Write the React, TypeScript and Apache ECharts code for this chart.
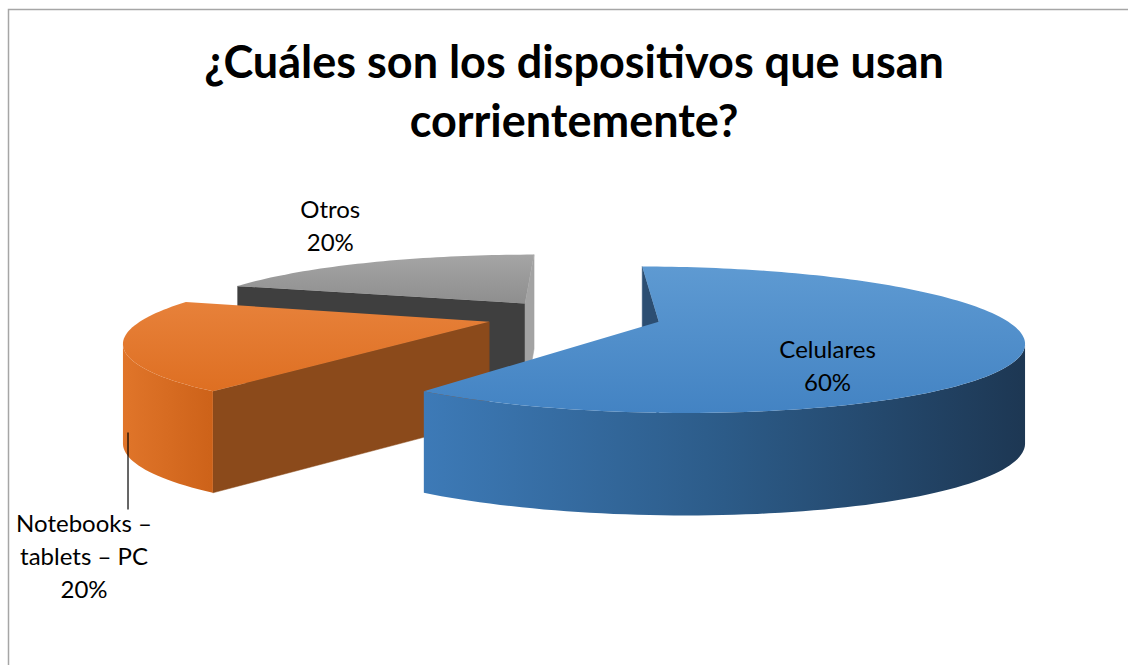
import React, { useEffect, useRef } from "react";
import * as echarts from "echarts";

// ---------- data ----------
const categories = ["Celulares", "Notebooks – tablets – PC", "Otros"];
const values = [60, 20, 20];
const labelNames = ["Celulares", "Notebooks –\ntablets – PC", "Otros"];
const titleText = "¿Cuáles son los dispositivos que usan\ncorrientemente?";

// ---------- style ----------
const FONT = "Lato, 'Open Sans', sans-serif";
const palette = [
  { top: ["#5e9ad2", "#4383c3"], side: ["#3d7ab7", "#2c5b88", "#1d3753"], edgeA: "#2c4e72", edgeB: "#2a4d70" },
  { top: ["#e7813a", "#de6f22"], side: ["#e0752a", "#cd6219"], edgeA: "#8b4a1b", edgeB: "#7a3c10" },
  { top: ["#a5a5a5", "#8e8e8e"], side: ["#9a9a9a", "#808080"], edgeA: "#3f3f3f", edgeB: "#a3a3a3" },
];
// label offsets (pixels) relative to their anchor points
const labelOffset: [number, number][] = [
  [11, 33],
  [-44, 125],
  [-40, -37],
];

// projection parameters (Excel-like 3D pie)
const CX = 574;
const CY = 365.5;
const S = 343;
const DEPTH_SCALE = 68; // vertical pixels per unit depth
const D = 4.2; // perspective distance
const THICK = 98; // pixel thickness
const EXPLODE = 0.255;

// level: 1 = top face, 0 = bottom face
function project(x: number, level: number, z: number): [number, number] {
  const f = D / (D + z);
  return [CX + S * x * f, CY - DEPTH_SCALE * z * f - (level - 0.5) * THICK * Math.pow(f, 0.15)];
}

function area(pts: [number, number][]) {
  let s = 0;
  for (let k = 0; k < pts.length; k++) {
    const p = pts[k];
    const q = pts[(k + 1) % pts.length];
    s += p[0] * q[1] - q[0] * p[1];
  }
  return s / 2;
}

const total = values.reduce((a, b) => a + b, 0);
const starts: number[] = [];
const ends: number[] = [];
{
  let acc = 0;
  values.forEach((v) => {
    starts.push((acc / total) * Math.PI * 2);
    acc += v;
    ends.push((acc / total) * Math.PI * 2);
  });
}

function offsetOf(i: number): [number, number] {
  const m = (starts[i] + ends[i]) / 2;
  return [EXPLODE * Math.sin(m), EXPLODE * Math.cos(m)];
}

// depth rank: farthest slice drawn first
const nearest = values.map((_, i) => {
  const [, oz] = offsetOf(i);
  let mn = oz;
  const N = 90;
  for (let k = 0; k <= N; k++) {
    const t = starts[i] + ((ends[i] - starts[i]) * k) / N;
    mn = Math.min(mn, oz + Math.cos(t));
  }
  return mn;
});
const order = values.map((_, i) => i).sort((a, b) => nearest[b] - nearest[a]);
const rank = values.map((_, i) => order.indexOf(i));

function lin(x: number, y: number, x2: number, y2: number, colors: string[]) {
  return new echarts.graphic.LinearGradient(
    x,
    y,
    x2,
    y2,
    colors.map((c, k) => ({ offset: colors.length === 1 ? 0 : k / (colors.length - 1), color: c }))
  );
}

function renderSlice(params: any, api: any) {
  const i = params.dataIndex;
  api.value(1);
  const a = starts[i];
  const b = ends[i];
  const m = (a + b) / 2;
  const [ox, oz] = offsetOf(i);
  const pal = palette[i];
  const base = rank[i] * 10;
  const children: any[] = [];
  const N = Math.max(12, Math.ceil((b - a) / (Math.PI / 120)));
  const ts: number[] = [];
  for (let k = 0; k <= N; k++) ts.push(a + ((b - a) * k) / N);
  const rim = (t: number, level: number) => project(ox + Math.sin(t), level, oz + Math.cos(t));
  const apex = (level: number) => project(ox, level, oz);

  // radial faces (visible when projected quad is counter-clockwise on screen)
  const startFace = [apex(1), rim(a, 1), rim(a, 0), apex(0)];
  if (area(startFace) < 0) {
    children.push({
      type: "polygon",
      shape: { points: startFace },
      style: { fill: pal.edgeA, stroke: pal.edgeA, lineWidth: 0.5 },
      z2: base + 1,
    });
  }
  const endFace = [rim(b, 1), apex(1), apex(0), rim(b, 0)];
  if (area(endFace) < 0) {
    children.push({
      type: "polygon",
      shape: { points: endFace },
      style: { fill: pal.edgeB, stroke: pal.edgeB, lineWidth: 0.5 },
      z2: base + 1,
    });
  }

  // outer curved side, visible runs
  let run: number[] = [];
  const flush = () => {
    if (run.length >= 2) {
      const topPts = run.map((t) => rim(t, 1));
      const botPts = run
        .slice()
        .reverse()
        .map((t) => rim(t, 0));
      children.push({
        type: "polygon",
        shape: { points: topPts.concat(botPts) },
        style: { fill: lin(0, 0, 1, 0, pal.side), stroke: "none" },
        z2: base + 2,
      });
    }
    run = [];
  };
  for (let k = 0; k < N; k++) {
    const quad = [rim(ts[k], 1), rim(ts[k + 1], 1), rim(ts[k + 1], 0), rim(ts[k], 0)];
    if (area(quad) < 0) {
      if (run.length === 0) run.push(ts[k]);
      run.push(ts[k + 1]);
    } else flush();
  }
  flush();

  // top face
  const topPts = [apex(1)].concat(ts.map((t) => rim(t, 1)));
  children.push({
    type: "polygon",
    shape: { points: topPts },
    style: { fill: lin(0, 0, 0, 1, pal.top), stroke: "none" },
    z2: base + 3,
  });

  // label
  const pct = Math.round((values[i] / total) * 100) + "%";
  const text = labelNames[i] + "\n" + pct;
  const textStyle = {
    text,
    fill: "#000000",
    fontSize: 24,
    fontFamily: FONT,
    lineHeight: 33,
    align: "center",
    verticalAlign: "middle",
    textAlign: "center",
    textVerticalAlign: "middle",
  };
  const [dx, dy] = labelOffset[i];
  if (i === 0) {
    const r = 0.45;
    const [lx, ly] = project(ox + r * Math.sin(m), 1, oz + r * Math.cos(m));
    children.push({ type: "text", x: lx + dx, y: ly + dy, style: textStyle, z2: 100 });
  } else if (i === 2) {
    const [lx, ly] = rim(m, 1);
    children.push({ type: "text", x: lx + dx, y: ly + dy, style: textStyle, z2: 100 });
  } else {
    const [lx, ly] = rim((262 * Math.PI) / 180, 0);
    children.push({
      type: "line",
      shape: { x1: lx, y1: ly + 2, x2: lx, y2: ly + 79 },
      style: { stroke: "#000000", lineWidth: 1.2 },
      z2: 100,
    });
    children.push({ type: "text", x: lx + dx, y: ly + dy, style: textStyle, z2: 100 });
  }

  return { type: "group", children };
}

export default function App() {
  const ref = useRef<HTMLDivElement>(null);
  useEffect(() => {
    if (!ref.current) return;
    const chart = echarts.init(ref.current, null, { renderer: "svg" });
    chart.setOption({
      animation: false,
      backgroundColor: "#ffffff",
      graphic: [
        {
          type: "rect",
          shape: { x: 8.5, y: 9.5, width: 1300, height: 800 },
          style: { fill: "none", stroke: "#a6a6a6", lineWidth: 1.5 },
          silent: true,
        },
        {
          type: "text",
          x: 574,
          y: 31,
          silent: true,
          style: {
            text: titleText,
            fill: "#000000",
            fontFamily: FONT,
            fontWeight: "bold",
            fontSize: 45,
            lineHeight: 59,
            align: "center",
            verticalAlign: "top",
            textAlign: "center",
            textVerticalAlign: "top",
          },
        },
      ],
      series: [
        {
          type: "custom",
          coordinateSystem: "none",
          renderItem: renderSlice,
          data: values.map((v, i) => ({ name: categories[i], value: [i, v] })),
        },
      ],
    });
    return () => chart.dispose();
  }, []);
  return (
    <div
      ref={ref}
      style={{ position: "fixed", left: 0, top: 0, width: 1128, height: 665, background: "#fff" }}
    />
  );
}
